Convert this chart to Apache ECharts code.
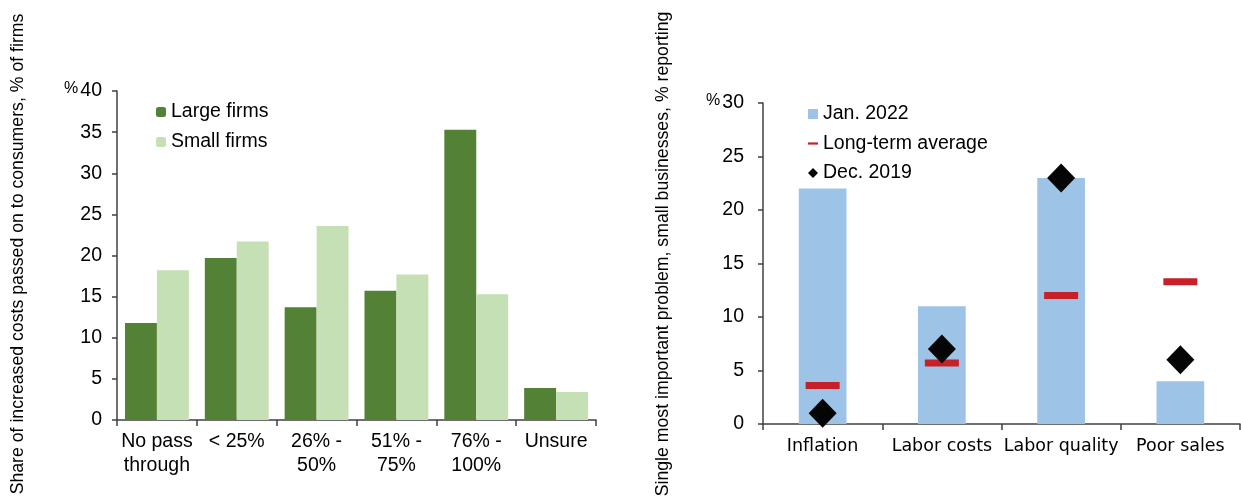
<!DOCTYPE html>
<html>
<head>
<meta charset="utf-8">
<script src="https://cdn.jsdelivr.net/npm/echarts@6/dist/echarts.min.js"></script>
<style>
html,body{margin:0;padding:0;background:#fff;}
#chart{width:1241px;height:500px;}
</style>
</head>
<body>
<div id="chart"></div>
<script>
// ---- Left panel data ----
const passCategories = ['No pass\nthrough', '< 25%', '26% -\n50%', '51% -\n75%', '76% -\n100%', 'Unsure'];
const largeFirms = [11.8, 19.7, 13.7, 15.7, 35.3, 3.9];
const smallFirms = [18.2, 21.7, 23.6, 17.7, 15.3, 3.4];
const leftTicks = [0, 5, 10, 15, 20, 25, 30, 35, 40];

// ---- Right panel data ----
const problemCategories = ['Inflation', 'Labor costs', 'Labor quality', 'Poor sales'];
const jan2022 = [22, 11, 23, 4];
const longTermAvg = [3.6, 5.7, 12.0, 13.3];
const dec2019 = [1, 7, 23, 6];
const rightTicks = [0, 5, 10, 15, 20, 25, 30];

const FONT = 'Liberation Sans, Arial, sans-serif';
const AXIS_COLOR = '#404040';

const chart = echarts.init(document.getElementById('chart'), null, {renderer: 'canvas'});

function yLabelFormatter(maxV) {
  return function (v) { return v === maxV ? '{p|%}' + v : String(v); };
}

const option = {
  animation: false,
  backgroundColor: '#ffffff',
  textStyle: {fontFamily: FONT, color: '#000'},
  grid: [
    {left: 117, top: 91, width: 479, height: 329, containLabel: false},
    {left: 763, top: 103, width: 477, height: 321, containLabel: false}
  ],
  legend: [
    {
      data: ['Large firms', 'Small firms'],
      orient: 'vertical', left: 156, top: 102, padding: 0,
      itemWidth: 10, itemHeight: 10, itemGap: 10,
      textStyle: {fontFamily: FONT, fontSize: 19.5, lineHeight: 20, color: '#000'}
    },
    {
      data: [
        {name: 'Jan. 2022', icon: 'rect'},
        {name: 'Long-term average', icon: 'path://M0,0 L10,0 L10,2.2 L0,2.2 Z'},
        {name: 'Dec. 2019', icon: 'diamond'}
      ],
      orient: 'vertical', left: 808, top: 104, padding: 0,
      itemWidth: 10, itemHeight: 10, itemGap: 9.5,
      textStyle: {fontFamily: FONT, fontSize: 19.5, lineHeight: 20, color: '#000'}
    }
  ],
  xAxis: [
    {
      type: 'category', gridIndex: 0, data: passCategories,
      axisLine: {lineStyle: {color: AXIS_COLOR, width: 1.5}},
      axisTick: {show: true, length: 6, lineStyle: {color: AXIS_COLOR, width: 1.5}},
      axisLabel: {interval: 0, fontFamily: FONT, fontSize: 19.5, color: '#000', margin: 10, lineHeight: 24}
    },
    {
      type: 'category', gridIndex: 1, data: problemCategories,
      axisLine: {lineStyle: {color: AXIS_COLOR, width: 1.5}},
      axisTick: {show: true, length: 6, lineStyle: {color: AXIS_COLOR, width: 1.5}},
      axisLabel: {interval: 0, fontFamily: 'DejaVu Sans, sans-serif', fontSize: 17.5, color: '#000', margin: 13}
    }
  ],
  yAxis: [
    {
      type: 'value', gridIndex: 0, min: leftTicks[0], max: leftTicks[leftTicks.length - 1], interval: 5,
      name: 'Share of increased costs passed on to consumers, % of firms',
      nameLocation: 'middle', nameGap: 90,
      nameTextStyle: {fontFamily: FONT, fontSize: 17.7, color: '#000', padding: [0, 0, 0, 3]},
      axisLine: {show: true, lineStyle: {color: AXIS_COLOR, width: 1.5}},
      axisTick: {show: true, length: 5, lineStyle: {color: AXIS_COLOR, width: 1.5}},
      splitLine: {show: false},
      axisLabel: {
        fontFamily: FONT, fontSize: 19.5, color: '#000', margin: 15,
        formatter: yLabelFormatter(leftTicks[leftTicks.length - 1]),
        rich: {p: {fontFamily: FONT, fontSize: 16, color: '#000', padding: [0, 2, 4, 0]}}
      }
    },
    {
      type: 'value', gridIndex: 1, min: rightTicks[0], max: rightTicks[rightTicks.length - 1], interval: 5,
      name: 'Single most important problem, small businesses, % reporting',
      nameLocation: 'middle', nameGap: 91,
      nameTextStyle: {fontFamily: FONT, fontSize: 17.7, color: '#000', padding: [0, 0, 0, 19]},
      axisLine: {show: true, lineStyle: {color: AXIS_COLOR, width: 1.5}},
      axisTick: {show: true, length: 5, lineStyle: {color: AXIS_COLOR, width: 1.5}},
      splitLine: {show: false},
      axisLabel: {
        fontFamily: FONT, fontSize: 19.5, color: '#000', margin: 19,
        formatter: yLabelFormatter(rightTicks[rightTicks.length - 1]),
        rich: {p: {fontFamily: FONT, fontSize: 16, color: '#000', padding: [0, 2, 4, 0]}}
      }
    }
  ],
  series: [
    {
      name: 'Large firms', type: 'bar', xAxisIndex: 0, yAxisIndex: 0,
      data: largeFirms, barGap: '0%', barCategoryGap: '20%',
      itemStyle: {color: '#538135'}
    },
    {
      name: 'Small firms', type: 'bar', xAxisIndex: 0, yAxisIndex: 0,
      data: smallFirms, barGap: '0%', barCategoryGap: '20%',
      itemStyle: {color: '#C5E0B4'}
    },
    {
      name: 'Jan. 2022', type: 'bar', xAxisIndex: 1, yAxisIndex: 1,
      data: jan2022, barCategoryGap: '60%',
      itemStyle: {color: '#9DC3E6'}
    },
    {
      name: 'Long-term average', type: 'scatter', xAxisIndex: 1, yAxisIndex: 1,
      data: longTermAvg, symbol: 'rect', symbolSize: [34, 7], z: 3,
      itemStyle: {color: '#C62128', opacity: 1}
    },
    {
      name: 'Dec. 2019', type: 'scatter', xAxisIndex: 1, yAxisIndex: 1,
      data: dec2019, symbol: 'diamond', symbolSize: [28, 29], z: 4,
      itemStyle: {color: '#050505', opacity: 1}
    }
  ]
};

chart.setOption(option);
</script>
</body>
</html>
